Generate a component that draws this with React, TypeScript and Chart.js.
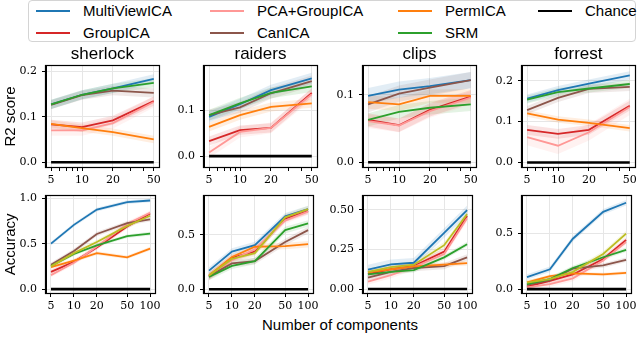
import React, { useEffect, useRef } from "react";
import { Chart, registerables } from "chart.js";
Chart.register(...registerables);

// ---------------- data ----------------
const methods = ["MultiViewICA", "GroupICA", "PCA+GroupICA", "CanICA", "PermICA", "SRM", "Other"];
const methodColors = ["#1f77b4", "#d62728", "#ff9896", "#8c564b", "#ff7f0e", "#2ca02c", "#bcbd22"];
const datasetNames = ["sherlock", "raiders", "clips", "forrest"];
const componentsR2 = [5, 10, 20, 50];
const componentsAcc = [5, 10, 20, 50, 100];
const minorTicksR2 = [6, 7, 8, 9, 30, 40];
const chanceLevel = 0;

// rows: MultiViewICA, GroupICA, PCA+GroupICA, CanICA, PermICA, SRM
const r2Sherlock = [
  [0.127, 0.148, 0.162, 0.183],
  [0.083, 0.077, 0.092, 0.134],
  [0.070, 0.070, 0.086, 0.132],
  [0.126, 0.147, 0.157, 0.152],
  [0.084, 0.075, 0.066, 0.050],
  [0.127, 0.148, 0.162, 0.174],
];
const r2Raiders = [
  [0.086, 0.114, 0.145, 0.171],
  [0.033, 0.057, 0.062, 0.139],
  [0.008, 0.053, 0.062, 0.136],
  [0.090, 0.107, 0.138, 0.165],
  [0.064, 0.090, 0.108, 0.116],
  [0.090, 0.116, 0.139, 0.153],
];
const r2Clips = [
  [0.0985, 0.108, 0.113, 0.122],
  [0.063, 0.055, 0.078, 0.0975],
  [0.061, 0.0547, 0.076, 0.096],
  [0.086, 0.102, 0.111, 0.122],
  [0.0895, 0.086, 0.0985, 0.0985],
  [0.063, 0.075, 0.081, 0.086],
];
const r2Forrest = [
  [0.156, 0.177, 0.193, 0.213],
  [0.080, 0.070, 0.080, 0.139],
  [0.062, 0.041, 0.074, 0.136],
  [0.128, 0.158, 0.180, 0.185],
  [0.120, 0.105, 0.097, 0.084],
  [0.154, 0.172, 0.181, 0.192],
];

// rows: MultiViewICA, GroupICA, PCA+GroupICA, CanICA, PermICA, SRM, other (olive)
const accSherlock = [
  [0.50, 0.707, 0.875, 0.957, 0.975],
  [0.19, 0.30, 0.457, 0.689, 0.832],
  [0.154, 0.29, 0.468, 0.718, 0.84],
  [0.268, 0.42, 0.607, 0.725, 0.768],
  [0.243, 0.314, 0.396, 0.35, 0.446],
  [0.254, 0.386, 0.482, 0.582, 0.61],
  [0.25, 0.396, 0.518, 0.696, 0.807],
];
const accRaiders = [
  [0.171, 0.347, 0.406, 0.671, 0.738],
  [0.12, 0.288, 0.347, 0.65, 0.72],
  [0.11, 0.268, 0.368, 0.632, 0.715],
  [0.118, 0.238, 0.259, 0.435, 0.544],
  [0.126, 0.297, 0.391, 0.397, 0.415],
  [0.112, 0.215, 0.259, 0.544, 0.606],
  [0.126, 0.279, 0.332, 0.662, 0.738],
];
const accClips = [
  [0.123, 0.156, 0.166, 0.354, 0.498],
  [0.094, 0.125, 0.145, 0.236, 0.461],
  [0.047, 0.088, 0.139, 0.221, 0.447],
  [0.072, 0.109, 0.133, 0.145, 0.20],
  [0.105, 0.125, 0.143, 0.154, 0.164],
  [0.092, 0.109, 0.119, 0.20, 0.283],
  [0.109, 0.139, 0.154, 0.277, 0.473],
];
const accForrest = [
  [0.108, 0.177, 0.451, 0.692, 0.773],
  [0.023, 0.073, 0.131, 0.27, 0.439],
  [0.015, 0.044, 0.096, 0.256, 0.422],
  [0.038, 0.081, 0.183, 0.212, 0.262],
  [0.061, 0.116, 0.14, 0.131, 0.145],
  [0.044, 0.09, 0.189, 0.285, 0.352],
  [0.058, 0.09, 0.154, 0.314, 0.497],
];

// half widths of the shaded bands, one per method
const errR2Sherlock = [0.010, 0.010, 0.012, 0.010, 0.008, 0.010];
const errR2Raiders = [0.012, 0.010, 0.012, 0.012, 0.010, 0.012];
const errR2Clips = [0.012, 0.010, 0.010, 0.012, 0.010, 0.010];
const errR2Forrest = [0.010, 0.012, 0.020, 0.010, 0.008, 0.010];
const errAccSherlock = [0.02, 0.025, 0.025, 0.025, 0.02, 0.02, 0.025];
const errAccRaiders = [0.03, 0.03, 0.03, 0.03, 0.03, 0.03, 0.03];
const errAccClips = [0.03, 0.02, 0.02, 0.02, 0.015, 0.015, 0.02];
const errAccForrest = [0.025, 0.025, 0.025, 0.02, 0.015, 0.02, 0.025];

const yLimR2 = [[-0.0103, 0.211], [-0.024, 0.198], [-0.007, 0.143], [-0.011, 0.236]];
const yTicksR2 = [[0, 0.1, 0.2], [0, 0.1], [0, 0.1], [0, 0.1, 0.2]];
const yLimAcc = [[-0.043, 1.029], [-0.035, 0.862], [-0.025, 0.59], [-0.035, 0.837]];
const yTicksAcc = [[0, 0.5, 1.0], [0, 0.5], [0, 0.25, 0.5], [0, 0.5]];
const yDecimalsAcc = [1, 1, 2, 1];
const xLimR2 = [4.46, 56.1];
const xLimAcc = [4.3, 116];

const legendOrder = [
  ["MultiViewICA", "#1f77b4"], ["GroupICA", "#d62728"],
  ["PCA+GroupICA", "#ff9896"], ["CanICA", "#8c564b"],
  ["PermICA", "#ff7f0e"], ["SRM", "#2ca02c"],
  ["Chance", "#000000"],
];

// ---------------- layout ----------------
const BOX_LEFT = [46, 204, 363, 522];
const BOX_W = 113;
const BOX_H = 101;
const BOX_TOP = [66, 192];
const Y_W = 46;
const X_H = 22;
const RIGHT_PAD = 5;
const TITLE_H = 22;
const BOTTOM_TOP_PAD = 8;

const SANS = "'Liberation Sans', Arial, sans-serif";
const SERIF = "'DejaVu Serif', serif";

function rgba(hex: string, a: number) {
  const n = parseInt(hex.slice(1), 16);
  return `rgba(${(n >> 16) & 255},${(n >> 8) & 255},${n & 255},${a})`;
}

const framePlugin = {
  id: "frame",
  afterDraw(chart: any) {
    const { ctx, chartArea } = chart;
    const { left, top, right, bottom } = chartArea;
    ctx.save();
    ctx.strokeStyle = "#000";
    ctx.lineWidth = 1.2;
    ctx.strokeRect(Math.round(left) - 0.5, Math.round(top) - 0.5, Math.round(right - left) + 1, Math.round(bottom - top) + 1);
    ctx.restore();
  },
};

type PanelSpec = {
  row: number;
  col: number;
  title?: string;
  yTitle?: string;
  xs: number[];
  minor: number[];
  values: number[][];
  errs: number[];
  yLim: number[];
  yTicks: number[];
  decimals: number;
  xLim: number[];
};

function buildConfig(p: PanelSpec): any {
  const datasets: any[] = [];
  p.values.forEach((row, i) => {
    const e = p.errs[i];
    datasets.push({
      data: p.xs.map((x, j) => ({ x, y: row[j] - e })),
      borderWidth: 0, pointRadius: 0, fill: false,
      borderColor: "rgba(0,0,0,0)", backgroundColor: "rgba(0,0,0,0)", order: 100,
    });
    datasets.push({
      data: p.xs.map((x, j) => ({ x, y: row[j] + e })),
      borderWidth: 0, pointRadius: 0, fill: "-1",
      borderColor: "rgba(0,0,0,0)", backgroundColor: rgba(methodColors[i], 0.13), order: 100,
    });
  });
  p.values.forEach((row, i) => {
    datasets.push({
      label: methods[i],
      data: p.xs.map((x, j) => ({ x, y: row[j] })),
      borderColor: methodColors[i], borderWidth: 1.8, pointRadius: 0, fill: false,
      order: 50 - i,
    });
  });
  datasets.push({
    label: "Chance",
    data: p.xs.map((x) => ({ x, y: chanceLevel })),
    borderColor: "#000", borderWidth: 2.6, pointRadius: 0, fill: false, order: 0,
  });

  const majors = p.xs;
  const allX = [...majors, ...p.minor].sort((a, b) => a - b);

  return {
    type: "line",
    data: { datasets },
    plugins: [framePlugin],
    options: {
      responsive: false,
      maintainAspectRatio: false,
      animation: false,
      devicePixelRatio: 1,
      events: [],
      layout: {
        padding: { top: p.row === 0 ? 0 : BOTTOM_TOP_PAD, right: RIGHT_PAD, bottom: 0, left: 0 },
      },
      plugins: {
        legend: { display: false },
        tooltip: { enabled: false },
        title: {
          display: !!p.title,
          text: p.title || "",
          color: "#000",
          fullSize: false,
          font: { family: SANS, size: 17, weight: "normal", lineHeight: "20px" },
          padding: { top: 0, bottom: 2 },
        },
      },
      scales: {
        x: {
          type: "logarithmic",
          min: p.xLim[0],
          max: p.xLim[1],
          afterBuildTicks: (s: any) => {
            s.ticks = allX.map((v) => ({ value: v }));
          },
          afterFit: (s: any) => {
            s.height = X_H;
          },
          ticks: {
            autoSkip: false,
            maxRotation: 0,
            padding: 3,
            color: "#000",
            font: { family: SERIF, size: 11 },
            callback: (v: any) => (majors.includes(Number(v)) ? String(v) : ""),
          },
          grid: {
            color: (ctx: any) => (ctx.tick && majors.includes(ctx.tick.value) ? "#e6e6e6" : "rgba(0,0,0,0)"),
            tickColor: "#000",
            tickLength: 4,
            lineWidth: 1,
          },
          border: { display: true, color: "#000", width: 1 },
        },
        y: {
          type: "linear",
          min: p.yLim[0],
          max: p.yLim[1],
          afterBuildTicks: (s: any) => {
            s.ticks = p.yTicks.map((v) => ({ value: v }));
          },
          afterFit: (s: any) => {
            s.width = Y_W;
          },
          ticks: {
            padding: 5,
            color: "#000",
            font: { family: SERIF, size: 11 },
            callback: (v: any) => Number(v).toFixed(p.decimals),
          },
          grid: { color: "#e6e6e6", tickColor: "#000", tickLength: 4, lineWidth: 1 },
          border: { display: true, color: "#000", width: 1 },
          title: {
            display: !!p.yTitle,
            text: p.yTitle || "",
            color: "#000",
            font: { family: SANS, size: 15 },
            padding: { top: 2, bottom: 0 },
          },
        },
      },
    },
  };
}

function Panel({ spec }: { spec: PanelSpec }) {
  const ref = useRef<HTMLCanvasElement>(null);
  const left = BOX_LEFT[spec.col] - Y_W;
  const topPad = spec.row === 0 ? TITLE_H : BOTTOM_TOP_PAD;
  const top = BOX_TOP[spec.row] - topPad;
  const width = Y_W + BOX_W + RIGHT_PAD;
  const height = topPad + BOX_H + X_H;
  useEffect(() => {
    const chart = new Chart(ref.current as HTMLCanvasElement, buildConfig(spec));
    return () => chart.destroy();
  }, []);
  return (
    <canvas
      ref={ref}
      width={width}
      height={height}
      style={{ position: "absolute", left, top, width, height }}
    />
  );
}

const r2Values = [r2Sherlock, r2Raiders, r2Clips, r2Forrest];
const r2Errs = [errR2Sherlock, errR2Raiders, errR2Clips, errR2Forrest];
const accValues = [accSherlock, accRaiders, accClips, accForrest];
const accErrs = [errAccSherlock, errAccRaiders, errAccClips, errAccForrest];

const specs: PanelSpec[] = [
  ...datasetNames.map((name, c) => ({
    row: 0, col: c, title: name, yTitle: c === 0 ? "R2 score" : undefined,
    xs: componentsR2, minor: minorTicksR2, values: r2Values[c], errs: r2Errs[c],
    yLim: yLimR2[c], yTicks: yTicksR2[c], decimals: 1, xLim: xLimR2,
  })),
  ...datasetNames.map((name, c) => ({
    row: 1, col: c, yTitle: c === 0 ? "Accuracy" : undefined,
    xs: componentsAcc, minor: [], values: accValues[c], errs: accErrs[c],
    yLim: yLimAcc[c], yTicks: yTicksAcc[c], decimals: yDecimalsAcc[c], xLim: xLimAcc,
  })),
];

const LEGEND_LINE_X = [36, 210, 398, 538];
const LEGEND_ROW_Y = [11, 33];

export default function App() {
  return (
    <div
      style={{
        position: "absolute", left: 0, top: 0, width: 640, height: 356,
        background: "#fff", overflow: "hidden", fontFamily: SANS,
      }}
    >
      <div
        style={{
          position: "absolute", left: 28, top: 0, width: 608, height: 42,
          border: "1px solid #d4d4d4", borderRadius: 4, boxSizing: "border-box",
        }}
      />
      {legendOrder.map(([label, color], i) => {
        const col = Math.floor(i / 2);
        const row = i % 2;
        const x = LEGEND_LINE_X[col];
        const y = LEGEND_ROW_Y[row];
        return (
          <React.Fragment key={label}>
            <div
              style={{
                position: "absolute", left: x, top: y - 1, width: 34, height: 2, background: color,
              }}
            />
            <div
              style={{
                position: "absolute", left: x + 47, top: y - 9, height: 18, lineHeight: "18px",
                fontSize: 15, color: "#000", whiteSpace: "nowrap",
              }}
            >
              {label}
            </div>
          </React.Fragment>
        );
      })}
      {specs.map((s, i) => (
        <Panel key={i} spec={s} />
      ))}
      <div
        style={{
          position: "absolute", left: 240, width: 200, top: 316, height: 18, lineHeight: "18px",
          textAlign: "center", fontSize: 15, color: "#000",
        }}
      >
        Number of components
      </div>
    </div>
  );
}
